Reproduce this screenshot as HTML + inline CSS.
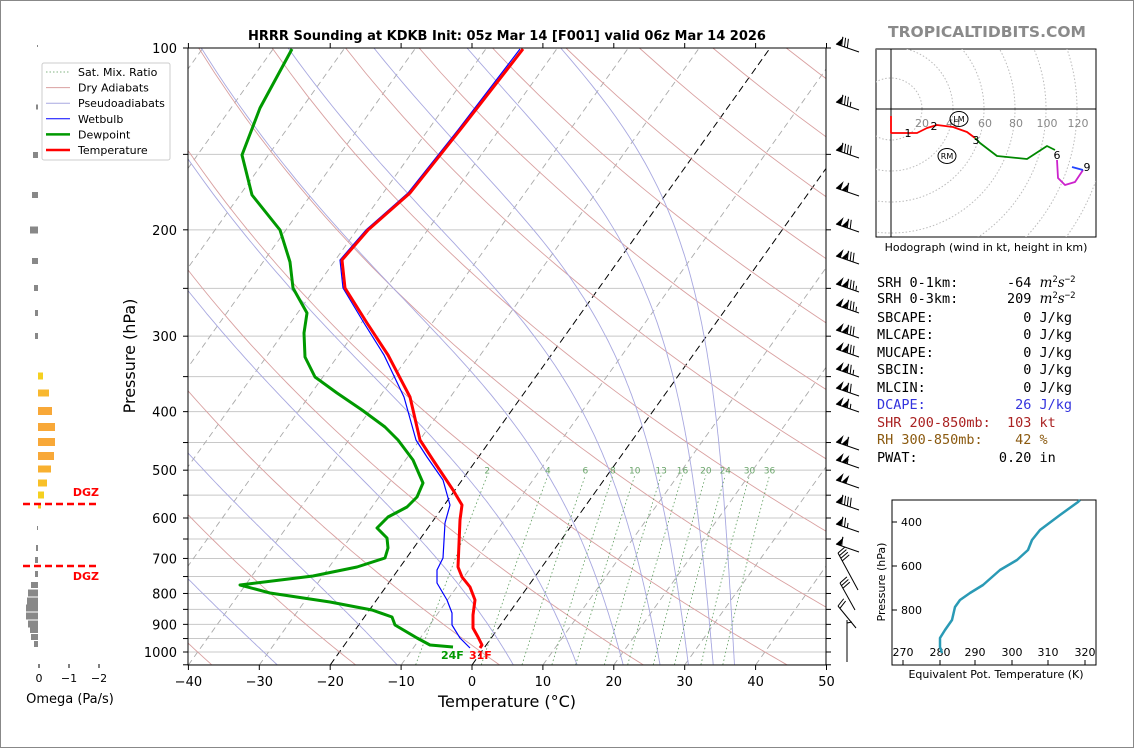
<!DOCTYPE html>
<html><head><meta charset="utf-8"><style>
body{margin:0;background:#fff}
svg{display:block}
text{font-family:"DejaVu Sans","Liberation Sans",sans-serif}
.m{font-family:"DejaVu Sans Mono","Liberation Mono",monospace;font-size:13.5px}
</style></head><body>
<svg id="s" width="1134" height="748" viewBox="0 0 1134 748" xmlns="http://www.w3.org/2000/svg">
<rect x="0.5" y="0.5" width="1133" height="747" fill="#fff" stroke="#888"/>
<defs><clipPath id="c"><rect x="188" y="48" width="638" height="617"/></clipPath>
<clipPath id="hc"><rect x="876" y="49" width="220" height="188"/></clipPath></defs>
<g id="grid" clip-path="url(#c)"></g>
<g id="fg"></g>
</svg>
<script>
var NS="http://www.w3.org/2000/svg",svg=document.getElementById('s'),G=document.getElementById('grid'),F=document.getElementById('fg');
function el(p,t,a,txt){var e=document.createElementNS(NS,t);for(var k in a)e.setAttribute(k,a[k]);if(txt!=null)e.textContent=txt;p.appendChild(e);return e;}
function Y(p){return 48+604*Math.log10(p/100);}
function X(T,p){return 472+7.09*T+0.713*(665-Y(p));}
function pl(p,pts,st,w,extra){var a={points:pts.map(function(q){return q[0].toFixed(1)+','+q[1].toFixed(1)}).join(' '),fill:'none',stroke:st,'stroke-width':w,'stroke-linejoin':'round'};for(var k in extra)a[k]=extra[k];return el(p,'polyline',a);}
// horizontal grid
for(var p=100;p<=1050;p+=50){el(G,'line',{x1:188,x2:826,y1:Y(p),y2:Y(p),stroke:'#c8c8c8','stroke-width':1});}
// isotherms
for(var T=-120;T<=60;T+=10){var hl=(T==0||T==-20);el(G,'line',{x1:472+7.09*T,y1:665,x2:472+7.09*T+0.713*617,y2:48,stroke:hl?'#000':'#aaa','stroke-width':hl?1:0.9,'stroke-dasharray':hl?'7,4':'6,4'});}
// dry adiabats
for(var th=173.15;th<=533.15;th+=20){var pts=[];for(var p=90;p<=1060;p+=10){pts.push([X(th*Math.pow(p/1000,0.2857)-273.15,p),Y(p)]);}pl(G,pts,'#d9a0a0',0.9);}
// moist adiabats
function es(Tc){return 6.112*Math.exp(17.67*Tc/(Tc+243.5));}
function dTdp(p,Tc){var T=Tc+273.15,e=es(Tc),rs=0.622*e/(p-e);return (287.04*T+2.501e6*rs)/(p*(1005.7+2.501e6*2.501e6*rs*0.622/(287.04*T*T)));}
[-44,-27.5,-10.6,5.8,14.8,21.3,26.5,30.5,34,37].forEach(function(T0){var Tc=T0,p=1050,pts=[[X(Tc,p),Y(p)]];while(p>95){var h=-5,k1=dTdp(p,Tc),k2=dTdp(p+h,Tc+h*k1);Tc+=h*(k1+k2)/2;p+=h;pts.push([X(Tc,p),Y(p)]);}pl(G,pts,'#a8a8e0',0.9);});
// mixing ratio
[2,4,6,8,10,13,16,20,24,30,36].forEach(function(w){var pts=[];for(var p=1050;p>=505;p-=15){var e=w/1000*p/(0.622+w/1000),l=Math.log(e/6.112),Td=243.5*l/(17.67-l);pts.push([X(Td,p),Y(p)]);}pl(G,pts,'#5a9a5a',0.8,{'stroke-dasharray':'1.5,2.5'});var q=pts[pts.length-1];el(G,'text',{x:q[0],y:q[1]-2,'font-size':9,fill:'#6aa56a','text-anchor':'middle'},''+w);});
// profiles
var wb=[[520,49],[458,130],[408,193],[366,230],[340,260],[343,288],[364,323],[384,355],[404,397],[416,440],[427,457],[443,480],[450,505],[445,523],[443,558],[437,570],[437,583],[447,600],[452,613],[452,625],[460,638],[470,648]];
pl(F,wb,'#0000ff',1.2);
var td=[[292,49],[260,108],[242,155],[252,195],[280,230],[290,262],[293,288],[307,313],[304,333],[305,357],[315,377],[337,393],[362,410],[385,427],[398,440],[413,460],[423,483],[417,497],[407,507],[388,517],[377,528],[387,538],[388,548],[385,558],[357,567],[313,576],[240,585],[270,593],[330,602],[372,610],[392,617],[395,625],[417,638],[430,645],[453,647]];
pl(F,td,'#009900',3);
var tt=[[523,49],[460,130],[410,193],[368,230],[342,260],[345,288],[367,323],[388,355],[410,397],[420,440],[433,460],[453,490],[462,505],[460,520],[458,567],[462,577],[470,587],[475,600],[473,615],[473,628],[478,637],[482,645],[480,648]];
pl(F,tt,'#ff0000',3);
el(F,'text',{x:441,y:659,'font-size':11,'font-weight':'bold',fill:'#009900'},'24F');
el(F,'text',{x:469,y:659,'font-size':11,'font-weight':'bold',fill:'#ff0000'},'31F');
// axes frame
el(F,'rect',{x:188,y:48,width:638,height:617,fill:'none',stroke:'#000','stroke-width':1});
[100,200,300,400,500,600,700,800,900,1000].forEach(function(p){el(F,'text',{x:177,y:Y(p)+5,'font-size':13,'text-anchor':'end'},''+p);});
for(var p=100;p<=1050;p+=50){el(F,'line',{x1:183,x2:188,y1:Y(p),y2:Y(p),stroke:'#000'});el(F,'line',{x1:826,x2:831,y1:Y(p),y2:Y(p),stroke:'#000'});}
for(var T=-40;T<=50;T+=10){var x=472+7.09*T;el(F,'line',{x1:x,x2:x,y1:665,y2:670,stroke:'#000'});el(F,'line',{x1:x,x2:x,y1:43,y2:48,stroke:'#000'});el(F,'text',{x:x,y:686,'font-size':13,'text-anchor':'middle'},(T<0?'\u2212':'')+Math.abs(T));}
el(F,'text',{x:507,y:707,'font-size':16,'text-anchor':'middle'},'Temperature (°C)');
el(F,'text',{x:0,y:0,'font-size':16,'text-anchor':'middle',transform:'translate(135,356) rotate(-90)'},'Pressure (hPa)');
el(F,'text',{x:507,y:40,'font-size':13,'font-weight':'bold','text-anchor':'middle'},'HRRR Sounding at KDKB Init: 05z Mar 14 [F001] valid 06z Mar 14 2026');
el(F,'text',{x:987,y:37,'font-size':15.5,'font-weight':'bold','text-anchor':'middle',fill:'#8a8a8a'},'TROPICALTIDBITS.COM');
// legend
el(F,'rect',{x:42,y:63,width:128,height:97,fill:'#fff',stroke:'#ccc',rx:2});
[['#5a9a5a',0.8,'1.5,2','Sat. Mix. Ratio'],['#d9a0a0',1,'','Dry Adiabats'],['#a8a8e0',1,'','Pseudoadiabats'],['#0000ff',1,'','Wetbulb'],['#009900',2.5,'','Dewpoint'],['#ff0000',2.5,'','Temperature']].forEach(function(r,i){var y=72+i*15.6;el(F,'line',{x1:46,x2:70,y1:y,y2:y,stroke:r[0],'stroke-width':r[1],'stroke-dasharray':r[2]});el(F,'text',{x:78,y:y+4,'font-size':11},r[3]);});
// omega bars
var ob=[[46,37,2],[107,36,5],[155,33,6],[195,32,6],[230,30,7],[261,32,6],[288,34,6],[313,35,6],[336,35,6],[376,43,7,'#f5d020'],[393,49,7,'#f8b830'],[411,52,8,'#f8a838'],[427,55,8,'#f8a838'],[442,55,8,'#f8a838'],[456,54,8,'#f8a838'],[469,51,7,'#f8b030'],[483,47,7,'#f8c028'],[495,44,7,'#f5d020'],[506,41,5,'#f5d020'],[528,37,4],[548,36,6],[560,35,6],[574,35,6],[585,31,6],[593,28,7],[601,27,7],[608,26,7],[616,26,7],[624,28,7],[630,30,6],[637,31,6],[644,34,6]];
ob.forEach(function(b){var x0=38,w=b[1]-x0;el(F,'rect',{x:Math.min(x0,b[1]),y:b[0]-b[2]/2,width:Math.max(Math.abs(w),1),height:b[2],fill:b[3]||'#888'});});
[[504,496],[566,580]].forEach(function(d){el(F,'line',{x1:23,x2:99,y1:d[0],y2:d[0],stroke:'#ff0000','stroke-width':2.5,'stroke-dasharray':'7,4'});el(F,'text',{x:99,y:d[1],'font-size':11,'font-weight':'bold',fill:'#ff0000','text-anchor':'end'},'DGZ');});
[[39,'0'],[69,'\u22121'],[99,'\u22122']].forEach(function(t){el(F,'line',{x1:t[0],x2:t[0],y1:664,y2:668,stroke:'#000'});el(F,'text',{x:t[0],y:682,'font-size':11,'text-anchor':'middle'},t[1]);});
el(F,'text',{x:70,y:703,'font-size':13,'text-anchor':'middle'},'Omega (Pa/s)');
// wind barbs
function barb(bx,by,tx,ty,fl,fu,ha){var L=Math.hypot(tx-bx,ty-by),dx=(tx-bx)/L,dy=(ty-by)/L,nx=-dy,ny=dx;if(ny>0){nx=-nx;ny=-ny;}
 el(F,'line',{x1:bx,y1:by,x2:tx,y2:ty,stroke:'#000','stroke-width':1});var s=0;
 for(var i=0;i<fl;i++){var px=tx-dx*s,py=ty-dy*s;el(F,'polygon',{points:[px,py,px-dx*5,py-dy*5,px-dx*5+nx*9,py-dy*5+ny*9].join(','),fill:'#000'});s+=6;}
 for(var i=0;i<fu;i++){var px=tx-dx*s,py=ty-dy*s;el(F,'line',{x1:px,y1:py,x2:px+nx*9+dx*2,y2:py+ny*9+dy*2,stroke:'#000'});s+=3;}
 for(var i=0;i<ha;i++){if(s==0)s=3;var px=tx-dx*s,py=ty-dy*s;el(F,'line',{x1:px,y1:py,x2:px+nx*5+dx*1,y2:py+ny*5+dy*1,stroke:'#000'});}}
[[42,1,3,0],[100,1,3,1],[148,1,4,0],[186,2,1,0],[222,2,2,0],[254,2,3,0],[282,2,3,1],[303,2,3,1],[328,2,3,0],[347,2,3,0],[367,2,2,1],[386,2,2,0],[402,2,1,1],[440,2,1,0],[458,2,0,1],[478,2,0,0],[500,1,4,0],[522,1,2,1],[542,1,1,0]].forEach(function(b){var y=b[0]+4;barb(859,y+6,836,y-2,b[1],b[2],b[3]);});
barb(858,590,838,553,0,4,0);barb(855,610,840,583,0,3,0);barb(856,628,838,606,0,2,0);barb(847,662,847,620,0,0,1);
// hodograph
var H=el(F,'g',{});
el(H,'rect',{x:876,y:49,width:220,height:188,fill:'#fff',stroke:'#000'});
var hg=el(H,'g',{'clip-path':'url(#hc)'});
for(var r=1;r<=8;r++)el(hg,'circle',{cx:891,cy:109,r:31*r,fill:'none',stroke:'#bbb','stroke-dasharray':'1.5,2'});
el(hg,'line',{x1:876,x2:1096,y1:109,y2:109,stroke:'#000'});el(hg,'line',{x1:891,x2:891,y1:49,y2:237,stroke:'#000'});
[[922,'20'],[953,'40'],[985,'60'],[1016,'80'],[1047,'100'],[1078,'120']].forEach(function(t){el(hg,'text',{x:t[0],y:127,'font-size':11,fill:'#888','text-anchor':'middle'},t[1]);});
pl(hg,[[891,116],[891,133],[908,133],[917,133],[927,128],[937,125],[953,127],[967,132],[975,138]],'#ff0000',1.8);
pl(hg,[[975,138],[980,143],[997,156],[1027,159],[1047,146],[1055,150]],'#008800',1.8);
pl(hg,[[1057,160],[1058,178],[1065,185],[1075,182],[1083,170]],'#cc22cc',1.8);
pl(hg,[[1083,170],[1072,167]],'#2244ff',1.8);
[[908,137,'1'],[934,130,'2'],[976,144,'3'],[1057,159,'6'],[1087,171,'9']].forEach(function(t){el(hg,'text',{x:t[0],y:t[1],'font-size':11,'text-anchor':'middle'},t[2]);});
[[959,119,'LM'],[947,156,'RM']].forEach(function(t){el(hg,'ellipse',{cx:t[0],cy:t[1],rx:9,ry:7.5,fill:'none',stroke:'#000'});el(hg,'text',{x:t[0],y:t[1]+3,'font-size':8,'text-anchor':'middle'},t[2]);});
el(F,'text',{x:986,y:251,'font-size':11,'text-anchor':'middle'},'Hodograph (wind in kt, height in km)');
// text panel
var rows=[['SRH 0-1km:      -64 ','#000',1],['SRH 0-3km:      209 ','#000',1],['SBCAPE:           0 J/kg','#000'],['MLCAPE:           0 J/kg','#000'],['MUCAPE:           0 J/kg','#000'],['SBCIN:            0 J/kg','#000'],['MLCIN:            0 J/kg','#000'],['DCAPE:           26 J/kg','#3333dd'],['SHR 200-850mb:  103 kt','#aa2222'],['RH 300-850mb:    42 %','#8b5a10'],['PWAT:          0.20 in','#000']];
var ys=[287,303,322,339,357,374,392,409,427,444,462];
rows.forEach(function(r,i){var t=el(F,'text',{x:877,y:ys[i],'class':'m',fill:r[1],'xml:space':'preserve'},r[0].replace(/ /g,'\u00a0'));if(r[2]){var s=el(t,'tspan',{'font-style':'italic','font-family':'DejaVu Serif,serif'},'m');el(t,'tspan',{dy:-5,'font-size':9},'2');el(t,'tspan',{dy:5,'font-style':'italic','font-family':'DejaVu Serif,serif'},'s');el(t,'tspan',{dy:-5,'font-size':9},'\u22122');}});
// theta-e panel
el(F,'rect',{x:892,y:500,width:204,height:165,fill:'#fff',stroke:'#000'});
[[522,'400'],[566,'600'],[610,'800']].forEach(function(t){el(F,'line',{x1:892,x2:897,y1:t[0],y2:t[0],stroke:'#000'});el(F,'text',{x:901,y:t[0]+4,'font-size':11},t[1]);});
[[903,'270'],[940,'280'],[975,'290'],[1012,'300'],[1048,'310'],[1085,'320']].forEach(function(t){el(F,'line',{x1:t[0],x2:t[0],y1:660,y2:665,stroke:'#000'});el(F,'text',{x:t[0],y:656,'font-size':11,'text-anchor':'middle'},t[1]);});
pl(F,[[1080,500],[1078,502],[1060,515],[1040,530],[1032,540],[1028,550],[1017,560],[1000,570],[983,585],[970,593],[960,600],[955,607],[952,620],[945,630],[940,638],[940,647],[942,653]],'#2a9ab5',2.5);
el(F,'text',{x:996,y:678,'font-size':11,'text-anchor':'middle'},'Equivalent Pot. Temperature (K)');
el(F,'text',{x:0,y:0,'font-size':11,'text-anchor':'middle',transform:'translate(885,582) rotate(-90)'},'Pressure (hPa)');
</script>
</body></html>
